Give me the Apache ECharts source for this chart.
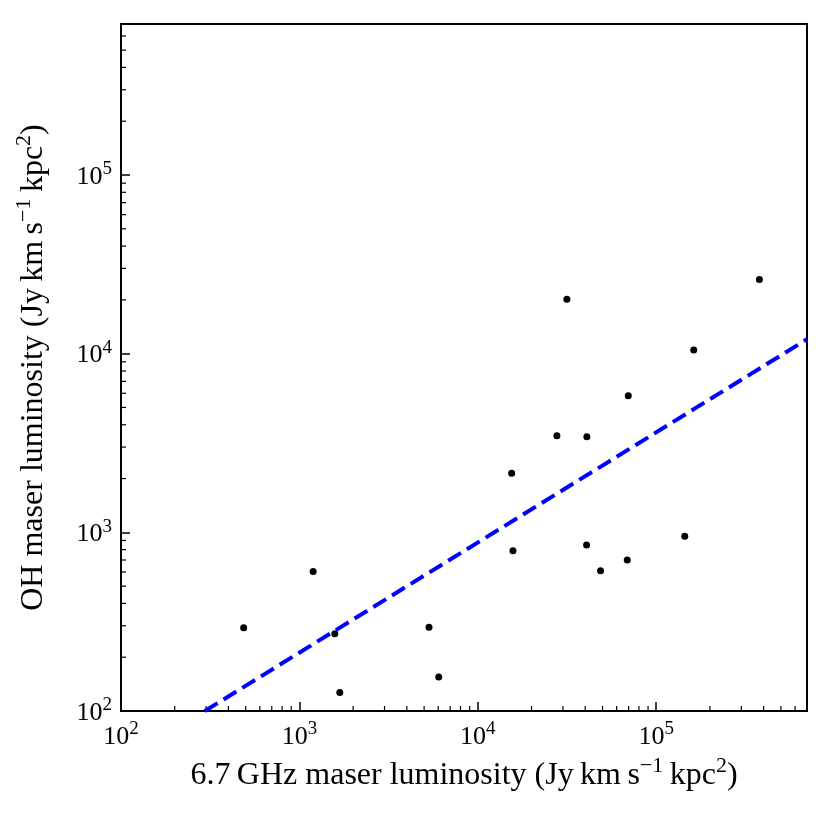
<!DOCTYPE html>
<html>
<head>
<meta charset="utf-8">
<script src="https://cdn.jsdelivr.net/npm/echarts@6/dist/echarts.min.js"></script>
<style>
  html, body { margin: 0; padding: 0; background: #fff; }
  #chart { width: 830px; height: 815px; }
</style>
</head>
<body>
<div id="chart"></div>
<script>
// 6.7 GHz maser luminosity (Jy km s^-1 kpc^2)
var methanolLum = [487, 1194, 1579, 1684, 5326, 6039, 15475, 15740, 27750,
    31570, 40850, 40700, 48750, 69700, 68800, 144500, 162300, 378700];
// OH maser luminosity (Jy km s^-1 kpc^2)
var ohLum = [292, 604, 271, 127, 294, 155, 2141, 788, 3473,
    20160, 3428, 848, 610, 5810, 699, 952, 10500, 25970];
// fitted relation, end points
var fitX = [295, 700000];
var fitY = [100, 12035];

var axisMin = 100, axisMax = 700000;
var decades = [100, 1000, 10000, 100000];

// minor ticks at 2..9 x 10^n
var minorTicks = [];
decades.forEach(function (d) {
    for (var k = 2; k <= 9; k++) {
        if (k * d < axisMax) minorTicks.push(k * d);
    }
});

var serif = 'Liberation Serif';

function tickLabel(v) {
    var e = Math.log10(v);
    if (Math.abs(e - Math.round(e)) > 1e-6) return '';
    return '{b|10}{s|' + Math.round(e) + '}';
}

var labelRich = {
    b: {fontFamily: serif, fontSize: 26, color: '#000', lineHeight: 30, verticalAlign: 'bottom'},
    s: {fontFamily: serif, fontSize: 19, color: '#000', lineHeight: 19, verticalAlign: 'top'}
};
var nameRich = {
    t: {fontFamily: serif, fontSize: 32, color: '#000', lineHeight: 37, verticalAlign: 'bottom'},
    s: {fontFamily: serif, fontSize: 22, color: '#000', lineHeight: 22, verticalAlign: 'top'}
};

function logAxis(name, gap) {
    return {
        type: 'log',
        logBase: 10,
        min: axisMin,
        max: axisMax,
        name: name,
        nameLocation: 'middle',
        nameGap: gap,
        nameTextStyle: {rich: nameRich},
        axisLine: {lineStyle: {color: '#000', width: 2}},
        axisTick: {inside: true, length: 9, lineStyle: {color: '#000', width: 1.5}},
        axisLabel: {margin: 9, formatter: tickLabel, rich: labelRich},
        splitLine: {show: false}
    };
}

var myChart = echarts.init(document.getElementById('chart'));
var option = {
    animation: false,
    backgroundColor: '#fff',
    grid: {
        left: 121, right: 23, top: 24, bottom: 104,
        show: true, borderColor: '#000', borderWidth: 2,
        outerBoundsMode: 'none'
    },
    xAxis: logAxis('{t|6.7\u2009GHz maser luminosity (Jy\u2009km\u2009s}{s|\u22121}{t|\u2009kpc}{s|2}{t|)}', 44),
    yAxis: logAxis('{t|OH maser luminosity (Jy\u2009km\u2009s}{s|\u22121}{t|\u2009kpc}{s|2}{t|)}', 71),
    series: [{
        // minor ticks on the x axis
        type: 'custom',
        silent: true,
        data: minorTicks.map(function (v) { return [v, axisMin]; }),
        renderItem: function (params, api) {
            var p = api.coord([api.value(0), api.value(1)]);
            return {type: 'line', shape: {x1: p[0], y1: p[1], x2: p[0], y2: p[1] - 5},
                style: {stroke: '#000', lineWidth: 1.2}};
        }
    }, {
        // minor ticks on the y axis
        type: 'custom',
        silent: true,
        data: minorTicks.map(function (v) { return [axisMin, v]; }),
        renderItem: function (params, api) {
            var p = api.coord([api.value(0), api.value(1)]);
            return {type: 'line', shape: {x1: p[0], y1: p[1], x2: p[0] + 5, y2: p[1]},
                style: {stroke: '#000', lineWidth: 1.2}};
        }
    }, {
        type: 'line',
        data: fitX.map(function (x, i) { return [x, fitY[i]]; }),
        showSymbol: false,
        lineStyle: {color: '#0000ff', width: 4, type: [15, 7]},
        z: 3
    }, {
        type: 'scatter',
        data: methanolLum.map(function (x, i) { return [x, ohLum[i]]; }),
        symbolSize: 7,
        itemStyle: {color: '#000', opacity: 1},
        z: 4
    }]
};
myChart.setOption(option);
</script>
</body>
</html>
